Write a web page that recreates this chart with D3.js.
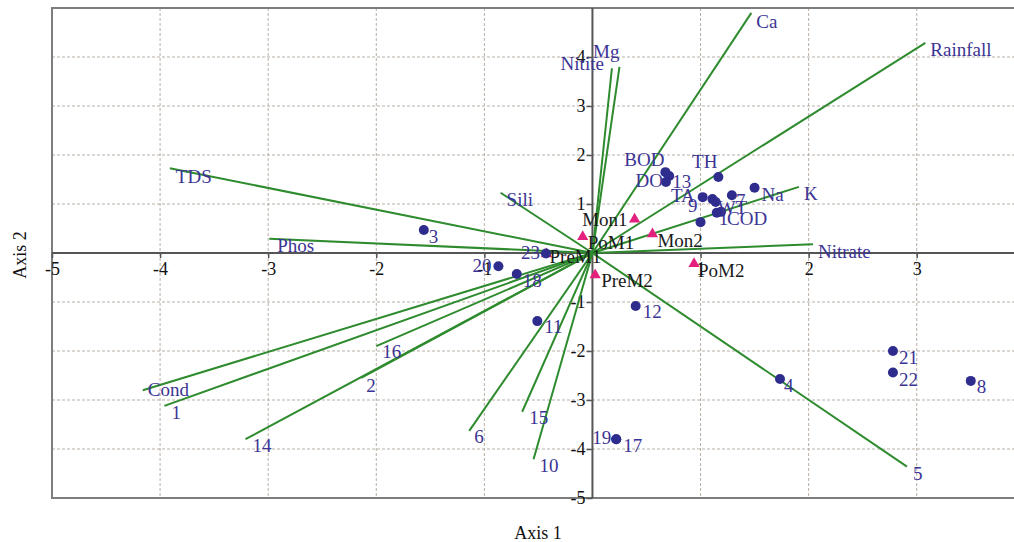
<!DOCTYPE html>
<html>
<head>
<meta charset="utf-8">
<script src="https://cdn.jsdelivr.net/npm/d3@7"></script>
<style>
    body{margin:0;background:#fff;}
    svg{display:block;font-family:"Liberation Serif","Times New Roman",serif;}
    .grid line{stroke:#b8afa6;stroke-width:1;stroke-dasharray:3,2;}
    .axis path{display:none;}
    .axis line{stroke:#555;stroke-width:1.5;}
    .axis text{font-family:"Liberation Serif",serif;font-size:18px;fill:#111;}
    .vec{stroke:#2e8b2e;stroke-width:2;}
    .lab{font-size:19px;fill:#3b3494;}
    .season-lab{font-size:19px;fill:#1a1a1a;}
    .title{font-size:18px;fill:#111;}
</style>
</head>
<body>
<svg id="chart" width="1014" height="542"></svg>
<script>
// ---- data ----
const vectorNames = ["Ca","Rainfall","Mg","Nitite","TDS","Phos","Sili","K","Nitrate",
                     "Cond","1","14","16","2","6","15","10","5"];
const vectorX = [1.47, 3.08, 0.25, 0.18, -3.91, -2.99, -0.85, 1.91, 2.04,
                 -4.16, -3.96, -3.21, -2.00, -2.14, -1.14, -0.65, -0.545, 2.91];
const vectorY = [4.90, 4.29, 3.80, 3.77, 1.73, 0.29, 1.23, 1.35, 0.18,
                 -2.80, -3.12, -3.80, -1.90, -2.55, -3.63, -3.24, -4.21, -4.36];

const siteNames = ["3","23","20","18","11","12","19","17","4","21","22","8",
                   "BOD","13","DO","TH","TA","9","WT","7","Na","1","COD",""];
const siteX = [-1.56, -0.43, -0.87, -0.70, -0.51, 0.40, 0.22, 0.22, 1.735, 2.78, 2.78, 3.50,
               0.675, 0.71, 0.68, 1.165, 1.02, 1.11, 1.14, 1.29, 1.50, 1.15, 1.19, 1.00];
const siteY = [0.47, -0.01, -0.27, -0.43, -1.39, -1.08, -3.80, -3.80, -2.57, -2.00, -2.44, -2.61,
               1.65, 1.57, 1.45, 1.55, 1.14, 1.10, 1.04, 1.18, 1.33, 0.82, 0.84, 0.63];

const seasonNames = ["Mon1","PoM1","Mon2","PreM1","PreM2","PoM2"];
const seasonX = [0.39, -0.09, 0.555, -0.425, 0.025, 0.94];
const seasonY = [0.69, 0.33, 0.39, -0.02, -0.45, -0.22];

const xTicks = [-5,-4,-3,-2,-1,1,2,3];
const yTicks = [-5,-4,-3,-2,-1,1,2,3,4];

// ---- label placement (dx, dy, anchor) ----
const vectorLabelPos = [[5,15,"start"],[5,13,"start"],[0,-9,"end"],[-8,2,"end"],[6,15,"start"],
    [8,13,"start"],[6,13,"start"],[5,13,"start"],[5,14,"start"],[5,6,"start"],[7,13,"start"],
    [7,13,"start"],[6,12,"start"],[5,14,"start"],[5,12,"start"],[7,12,"start"],[6,13,"start"],[6,13,"start"]];
const siteLabelPos = [[5,13,"start"],[-6,6,"end"],[-7,6,"end"],[6,13,"start"],[7,12,"start"],
    [7,12,"start"],[-5,5,"end"],[7,13,"start"],[4,13,"start"],[6,13,"start"],[6,13,"start"],[6,12,"start"],
    [-1,-6,"end"],[3,12,"start"],[-3,5,"end"],[-1,-9,"end"],[-8,5,"end"],[-15,13,"end"],[2,12,"start"],
    [4,12,"start"],[7,13,"start"],[2,12,"start"],[6,13,"start"],[0,0,"start"]];
const seasonLabelPos = [[-7,7,"end"],[5,12,"start"],[5,13,"start"],[3,9,"start"],[6,12,"start"],[4,13,"start"]];

class biplot{
    constructor(svg){
        this.svg = svg;
        this.plot = {l:52, r:1014, t:8, b:498};
    }

    setScales(){
        this.scaleX = d3.scaleLinear().domain([-5, 3.9]).range([this.plot.l, this.plot.r]);
        this.scaleY = d3.scaleLinear().domain([-5, 5]).range([this.plot.b, this.plot.t]);
        return this;
    }

    draw(){
        this.drawGrid();
        this.drawFrame();
        this.drawAxes();
        this.drawVectors();
        this.drawSeasons();
        this.drawSites();
        this.drawTitles();
    }

    drawGrid(){
        const g = this.svg.append('g').attr('class','grid');
        g.selectAll('line.gx')
            .data(xTicks.filter(d => d > -5))
            .join('line')
            .attr('class','gx')
            .attr('x1', d => this.scaleX(d)).attr('x2', d => this.scaleX(d))
            .attr('y1', this.plot.t).attr('y2', this.plot.b);
        g.selectAll('line.gy')
            .data(yTicks.filter(d => d > -5))
            .join('line')
            .attr('class','gy')
            .attr('y1', d => this.scaleY(d)).attr('y2', d => this.scaleY(d))
            .attr('x1', this.plot.l).attr('x2', this.plot.r);
    }

    drawFrame(){
        const p = this.plot;
        this.svg.append('path')
            .attr('d', `M${p.r},${p.t}H${p.l}V${p.b}H${p.r}`)
            .attr('fill','none')
            .attr('stroke','#7d7d7d')
            .attr('stroke-width',2);
    }

    drawAxes(){
        const x0 = this.scaleX(0), y0 = this.scaleY(0);

        this.svg.append('line')
            .attr('x1', this.plot.l).attr('x2', this.plot.r)
            .attr('y1', y0).attr('y2', y0)
            .attr('stroke','#555').attr('stroke-width',2);
        this.svg.append('line')
            .attr('x1', x0).attr('x2', x0)
            .attr('y1', this.plot.t).attr('y2', this.plot.b)
            .attr('stroke','#555').attr('stroke-width',2);

        //plain hyphen for negatives, like the original
        this.svg.append('g')
            .attr('class','axis axis-x')
            .attr('transform', `translate(0, ${y0})`)
            .call(d3.axisBottom(this.scaleX).tickValues(xTicks).tickFormat(d => String(d)).tickSize(5).tickPadding(4));

        this.svg.append('g')
            .attr('class','axis axis-y')
            .attr('transform', `translate(${x0}, 0)`)
            .call(d3.axisLeft(this.scaleY).tickValues(yTicks).tickFormat(d => String(d)).tickSize(6).tickPadding(1));
    }

    drawVectors(){
        const x0 = this.scaleX(0), y0 = this.scaleY(0);
        const data = vectorNames.map((n, i) => ({name:n, x:vectorX[i], y:vectorY[i], pos:vectorLabelPos[i]}));

        this.svg.append('g').selectAll('line')
            .data(data)
            .join('line')
            .attr('class','vec')
            .attr('x1', x0).attr('y1', y0)
            .attr('x2', d => this.scaleX(d.x))
            .attr('y2', d => this.scaleY(d.y));

        this.svg.append('g').selectAll('text')
            .data(data)
            .join('text')
            .attr('class','lab')
            .attr('x', d => this.scaleX(d.x) + d.pos[0])
            .attr('y', d => this.scaleY(d.y) + d.pos[1])
            .attr('text-anchor', d => d.pos[2])
            .text(d => d.name);
    }

    drawSeasons(){
        const data = seasonNames.map((n, i) => ({name:n, x:seasonX[i], y:seasonY[i], pos:seasonLabelPos[i]}));
        const tri = d3.symbol().type(d3.symbolTriangle).size(55);

        this.svg.append('g').selectAll('path')
            .data(data)
            .join('path')
            .attr('d', tri)
            .attr('fill','#e4207f')
            .attr('transform', d => `translate(${this.scaleX(d.x)}, ${this.scaleY(d.y)})`);

        this.svg.append('g').selectAll('text')
            .data(data)
            .join('text')
            .attr('class','season-lab')
            .attr('x', d => this.scaleX(d.x) + d.pos[0])
            .attr('y', d => this.scaleY(d.y) + d.pos[1])
            .attr('text-anchor', d => d.pos[2])
            .text(d => d.name);
    }

    drawSites(){
        const data = siteNames.map((n, i) => ({name:n, x:siteX[i], y:siteY[i], pos:siteLabelPos[i]}));

        this.svg.append('g').selectAll('circle')
            .data(data)
            .join('circle')
            .attr('cx', d => this.scaleX(d.x))
            .attr('cy', d => this.scaleY(d.y))
            .attr('r', 5)
            .attr('fill','#2e2d8e');

        this.svg.append('g').selectAll('text')
            .data(data.filter(d => d.name != ''))
            .join('text')
            .attr('class','lab')
            .attr('x', d => this.scaleX(d.x) + d.pos[0])
            .attr('y', d => this.scaleY(d.y) + d.pos[1])
            .attr('text-anchor', d => d.pos[2])
            .text(d => d.name);
    }

    drawTitles(){
        this.svg.append('text')
            .attr('class','title')
            .attr('x', 538).attr('y', 539)
            .attr('text-anchor','middle')
            .text('Axis 1');

        this.svg.append('text')
            .attr('class','title')
            .attr('transform', 'translate(26, 255) rotate(-90)')
            .attr('text-anchor','middle')
            .text('Axis 2');
    }
}

new biplot(d3.select('#chart')).setScales().draw();
</script>
</body>
</html>
